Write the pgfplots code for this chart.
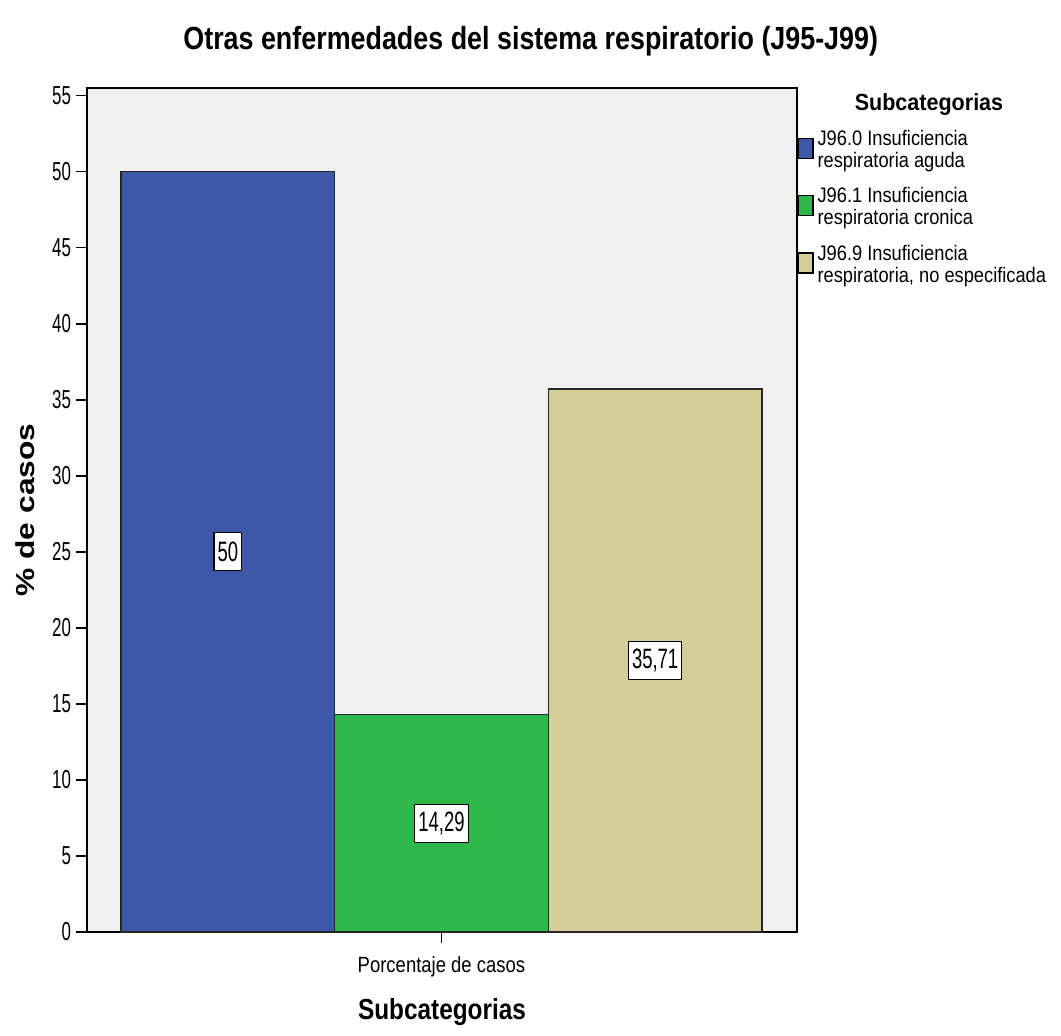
\documentclass[border=0pt]{standalone}
\usepackage{pgfplots}
\pgfplotsset{compat=1.18}
\usepackage{graphicx}
\usepackage{fontspec}
\setmainfont[FakeStretch=0.84]{Liberation Sans}
\newfontfamily\widefont[FakeStretch=1.22]{Liberation Sans}
\newfontfamily\narrowfont[FakeStretch=0.65]{Liberation Sans}
\newfontfamily\legendfont[FakeStretch=0.87]{Liberation Sans}
\newfontfamily\headfont[FakeStretch=0.92]{Liberation Sans}
\newfontfamily\plainfont{Liberation Sans}

\definecolor{barblue}{RGB}{62,88,168}
\definecolor{bargreen}{RGB}{46,184,74}
\definecolor{bartan}{RGB}{211,206,151}
\definecolor{plotbg}{RGB}{240,240,240}

% condensed value label inside a bar
\newcommand{\val}[1]{\scalebox{0.66}[1]{#1}}

\begin{document}
\begin{tikzpicture}
\begin{axis}[
  scale only axis,
  width=355pt, height=422pt,
  xmin=-0.659, xmax=2.664,
  ymin=0, ymax=55.5,
  ytick={0,5,...,55},
  xtick={1},
  xticklabels={Porcentaje de casos},
  xtick pos=bottom, ytick pos=left,
  tick align=outside,
  tick style={black, line width=0.8pt},
  major tick length=5.5pt,
  axis line style={black, line width=0.8pt},
  axis background/.style={fill=plotbg},
  /pgf/number format/assume math mode=true,
  yticklabel style={font=\narrowfont\fontsize{13}{15}\selectfont, xshift=1pt},
  xticklabel style={font=\fontsize{11}{13}\selectfont, yshift=-3pt},
  xlabel={\bfseries Subcategorias},
  xlabel style={font=\fontsize{14.5}{16}\selectfont, yshift=-4pt},
  ylabel={\widefont\bfseries \% de casos},
  ylabel style={font=\fontsize{13}{15}\selectfont, yshift=2pt},
  ybar, bar width=1, bar shift=0pt,
  clip=false,
  legend style={at={(1,1)}, anchor=north west, draw=none, fill=none,
    yshift=-19pt, xshift=0pt, inner sep=0pt,
    font=\legendfont\fontsize{10.5}{11}\selectfont,
    cells={align=left, anchor=west},
    row sep=4.5pt},
  legend image code/.code={\draw[#1, draw=black, line width=0.6pt] (0pt,-4pt) rectangle (7.5pt,6pt);},
]
\addplot[fill=barblue, draw=black!85, line width=0.6pt] coordinates {(0,50)};
\addlegendentry{J96.0 Insuficiencia\\respiratoria aguda}
\addplot[fill=bargreen, draw=black!85, line width=0.6pt] coordinates {(1,14.29)};
\addlegendentry{J96.1 Insuficiencia\\respiratoria cronica}
\addplot[fill=bartan, draw=black!85, line width=0.6pt] coordinates {(2,35.71)};
\addlegendentry{J96.9 Insuficiencia\\respiratoria, no especificada}

% value labels at the middle of each bar
\begin{scope}[every node/.style={draw=black, fill=white, line width=0.6pt,
    inner xsep=1.8pt, minimum height=19pt, font=\plainfont\fontsize{14}{16}\selectfont}]
\node at (axis cs:0,25) {\val{50}};
\node at (axis cs:1,7.145) {\val{14,29}};
\node at (axis cs:2,17.855) {\val{35,71}};
\end{scope}

\node[font=\headfont\fontsize{11.7}{13}\selectfont\bfseries, anchor=north] at ([xshift=66pt,yshift=1pt]rel axis cs:1,1) {Subcategorias};
\node[font=\fontsize{16}{18}\selectfont\bfseries] at ([yshift=23.5pt]rel axis cs:0.625,1) {Otras enfermedades del sistema respiratorio (J95-J99)};

\coordinate (sw) at (rel axis cs:0,0);
\coordinate (ne) at (rel axis cs:1,1);
\end{axis}
\path[use as bounding box] ([shift={(-43.5pt,-51.5pt)}]sw) rectangle ([shift={(132pt,44pt)}]ne);
\end{tikzpicture}
\end{document}
